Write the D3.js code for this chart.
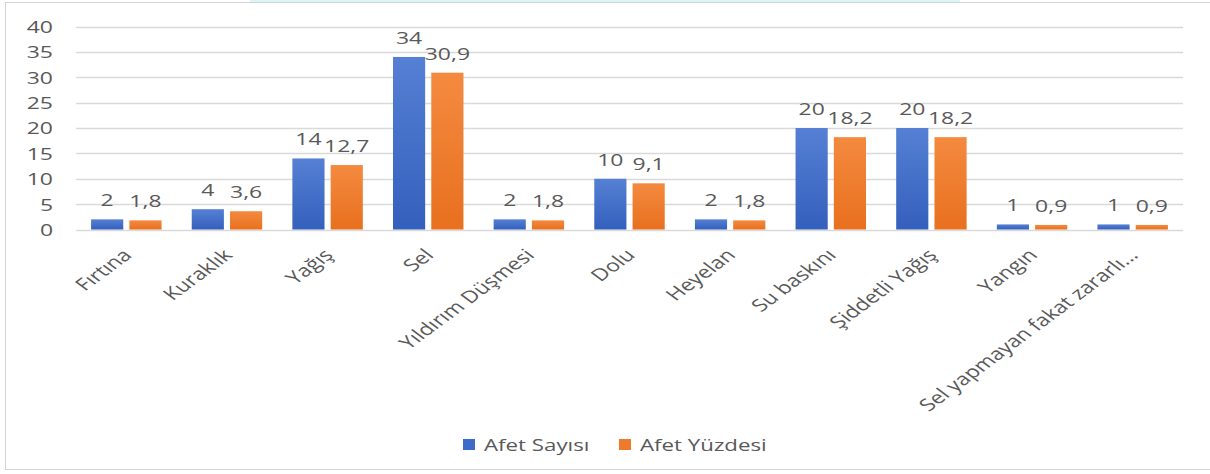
<!DOCTYPE html>
<html>
<head>
<meta charset="utf-8">
<script src="https://cdn.jsdelivr.net/npm/d3@7"></script>
<style>
  html, body { margin: 0; padding: 0; background: #fff; }
  svg { display: block; }
  text { font-family: "Open Sans", sans-serif; fill: #595959; }
</style>
</head>
<body>
<div id="vis"></div>
<script>
// data
var categories = ['Fırtına', 'Kuraklık', 'Yağış', 'Sel', 'Yıldırım Düşmesi', 'Dolu',
    'Heyelan', 'Su baskını', 'Şiddetli Yağış', 'Yangın', 'Sel yapmayan fakat zararlı...'];
var seriesNames = ['Afet Sayısı', 'Afet Yüzdesi'];
var afetSayisi = [2, 4, 14, 34, 2, 10, 2, 20, 20, 1, 1];
var afetYuzdesi = [1.8, 3.6, 12.7, 30.9, 1.8, 9.1, 1.8, 18.2, 18.2, 0.9, 0.9];
var yTicks = [0, 5, 10, 15, 20, 25, 30, 35, 40];
var seriesColors = ['#3d6cc8', '#ee7b2c'];

var width = 1210, height = 474;
var sx = 1.35; // the source picture is stretched horizontally

var svg = d3.select('#vis').append('svg')
    .attr('width', width)
    .attr('height', height);

// gradients for the bars
var defs = svg.append('defs');
var gradStops = [['#5580d4', '#3460bd'], ['#f48a3f', '#e8701f']];
gradStops.forEach(function(s, i)
{
    var g = defs.append('linearGradient')
        .attr('id', 'grad' + i)
        .attr('x1', 0).attr('y1', 0).attr('x2', 0).attr('y2', 1);
    g.append('stop').attr('offset', '0%').attr('stop-color', s[0]);
    g.append('stop').attr('offset', '100%').attr('stop-color', s[1]);
});

// remains of the cut title and chart frame
svg.append('rect')
    .attr('x', 250).attr('y', 0).attr('width', 710).attr('height', 2)
    .attr('fill', '#d8f6f8');
svg.append('rect')
    .attr('x', 5.5).attr('y', 2.5)
    .attr('width', 1230).attr('height', 467)
    .attr('fill', 'none')
    .attr('stroke', '#d4d4d4');

// scales
var x = d3.scaleBand()
    .domain(categories)
    .range([76, 1183])
    .paddingInner(0.3)
    .paddingOuter(0.15);

var x1 = d3.scaleBand()
    .domain(seriesNames)
    .range([0, x.bandwidth()])
    .paddingInner(0.16);

var y = d3.scaleLinear()
    .domain([0, 40])
    .range([229.5, 26.5]);

// grid
svg.append('g')
    .selectAll('line')
    .data(yTicks)
    .join('line')
        .attr('x1', 76)
        .attr('x2', 1183)
        .attr('y1', function(d) { return Math.round(y(d)) + 0.5; })
        .attr('y2', function(d) { return Math.round(y(d)) + 0.5; })
        .attr('stroke', '#d9d9d9')
        .attr('stroke-width', 1.3);

// y axis labels
var yAxis = svg.append('g')
    .call(d3.axisLeft(y).tickValues(yTicks).tickSize(0).tickPadding(0));
yAxis.select('.domain').remove();
yAxis.selectAll('.tick text')
    .attr('x', 0)
    .attr('dy', '0.35em')
    .attr('transform', 'translate(53,0) scale(' + sx + ',1)')
    .style('font-size', '17px')
    .style('font-family', '"Open Sans", sans-serif')
    .attr('fill', '#595959');

// bars
var rows = categories.map(function(c, i)
{
    return { cat: c, values: [afetSayisi[i], afetYuzdesi[i]] };
});

var groups = svg.append('g')
    .selectAll('g')
    .data(rows)
    .join('g')
        .attr('transform', function(d) { return 'translate(' + x(d.cat) + ',0)'; });

groups.selectAll('rect')
    .data(function(d) { return d.values.map(function(v, i) { return { s: i, v: v }; }); })
    .join('rect')
        .attr('x', function(d) { return x1(seriesNames[d.s]); })
        .attr('width', x1.bandwidth())
        .attr('y', function(d) { return y(d.v); })
        .attr('height', function(d) { return y(0) - y(d.v); })
        .attr('fill', function(d) { return 'url(#grad' + d.s + ')'; });

// value labels
groups.selectAll('text')
    .data(function(d) { return d.values.map(function(v, i) { return { s: i, v: v }; }); })
    .join('text')
        .attr('text-anchor', 'middle')
        .attr('transform', function(d)
        {
            var cx = x1(seriesNames[d.s]) + x1.bandwidth() / 2;
            return 'translate(' + cx + ',' + (y(d.v) - 13) + ') scale(' + sx + ',1)';
        })
        .style('font-size', '17px')
        .text(function(d) { return String(d.v).replace('.', ','); });

// category labels
svg.append('g')
    .selectAll('text')
    .data(categories)
    .join('text')
        .attr('text-anchor', 'end')
        .attr('dy', '0.35em')
        .attr('transform', function(d)
        {
            var cx = x(d) + x.bandwidth() / 2;
            return 'translate(' + (cx + 1) + ',252) scale(' + sx + ',1) rotate(-45)';
        })
        .style('font-size', '17px')
        .text(function(d) { return d; });

// legend
var legendX = [463, 619];
var legend = svg.append('g')
    .selectAll('g')
    .data(seriesNames)
    .join('g')
        .attr('transform', function(d, i) { return 'translate(' + legendX[i] + ',439)'; });

legend.append('rect')
    .attr('width', 12)
    .attr('height', 11)
    .attr('fill', function(d, i) { return seriesColors[i]; });

legend.append('text')
    .attr('dy', '0.35em')
    .attr('transform', 'translate(21,6) scale(' + sx + ',1)')
    .style('font-size', '16.5px')
    .text(function(d) { return d; });
</script>
</body>
</html>
